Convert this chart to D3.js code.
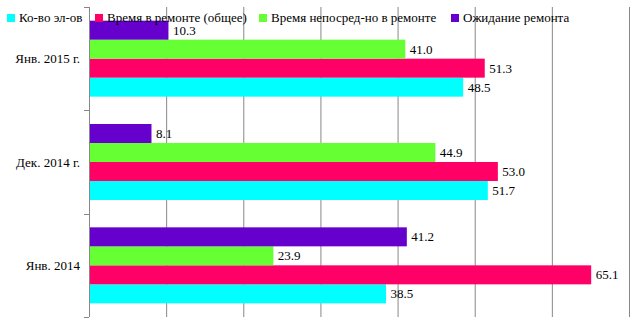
<!DOCTYPE html>
<html><head><meta charset="utf-8">
<script src="https://cdn.jsdelivr.net/npm/d3@7"></script>
<style>
html,body{margin:0;padding:0;background:#fff;}
</style></head>
<body><svg id="c" width="642" height="323" font-family="'Liberation Serif', 'DejaVu Serif', serif" font-size="13"></svg>
<script>
const categories = ["Янв. 2015 г.", "Дек. 2014 г.", "Янв. 2014"];
const seriesNames = ["Ко-во эл-ов", "Время в ремонте (общее)", "Время непосред-но в ремонте", "Ожидание ремонта"];
const seriesColors = ["#00FFFF", "#FF0066", "#66FF33", "#6600CC"];
const kolvo = [48.5, 51.7, 38.5];
const vremyaObshee = [51.3, 53.0, 65.1];
const vremyaNeposredno = [41.0, 44.9, 23.9];
const ozhidanie = [10.3, 8.1, 41.2];
const xTicks = [0, 10, 20, 30, 40, 50, 60, 70];

(function () {
const seriesValues = [kolvo, vremyaObshee, vremyaNeposredno, ozhidanie];
const legendX = [7, 95, 259, 451];
const svg = d3.select("#c");
const pLeft = 89, pRight = 629, pTop = 7, pBottom = 317;

const x = d3.scaleLinear().domain([0, 70]).range([pLeft, pRight]);
const y0 = d3.scaleBand().domain(categories).range([pTop, pBottom]).padding(0);
const seriesOrder = seriesNames.slice().reverse();
const y1 = d3.scaleBand().domain(seriesOrder).range([0, y0.bandwidth()]).paddingInner(0).paddingOuter(0.72);

svg.append("g").selectAll("line").data(xTicks.slice(1)).join("line")
  .attr("x1", d => x(d) + 0.5).attr("x2", d => x(d) + 0.5)
  .attr("y1", pTop).attr("y2", pBottom)
  .attr("stroke", "#888").attr("stroke-width", 1);

const data = [];
categories.forEach((c, ci) => seriesNames.forEach((s, si) => data.push({c, s, si, v: seriesValues[si][ci]})));
svg.append("g").selectAll("rect").data(data).join("rect")
  .attr("x", x(0)).attr("y", d => y0(d.c) + y1(d.s))
  .attr("width", d => x(d.v) - x(0)).attr("height", y1.bandwidth())
  .attr("fill", d => seriesColors[d.si]);

const yAxis = svg.append("g");
yAxis.append("line").attr("x1", pLeft + 0.5).attr("x2", pLeft + 0.5).attr("y1", pTop).attr("y2", pBottom)
  .attr("stroke", "#888");
const bounds = categories.map(c => y0(c)).concat([pBottom]);
yAxis.selectAll("line.t").data(bounds).join("line").attr("class", "t")
  .attr("x1", pLeft - 5).attr("x2", pLeft).attr("y1", d => Math.round(d) + 0.5).attr("y2", d => Math.round(d) + 0.5)
  .attr("stroke", "#888");
yAxis.selectAll("text").data(categories).join("text")
  .attr("x", 80).attr("y", d => y0(d) + y0.bandwidth() / 2).attr("dy", "0.35em")
  .attr("text-anchor", "end").attr("fill", "#000").text(d => d);

svg.append("g").selectAll("text").data(data).join("text")
  .attr("x", d => x(d.v) + 4.5).attr("y", d => y0(d.c) + y1(d.s) + y1.bandwidth() / 2).attr("dy", "0.35em")
  .attr("fill", "#000").text(d => d.v.toFixed(1));

const lg = svg.append("g");
seriesNames.forEach((s, i) => {
  lg.append("rect").attr("x", legendX[i]).attr("y", 14).attr("width", 8).attr("height", 8).attr("fill", seriesColors[i]);
  lg.append("text").attr("x", legendX[i] + 12).attr("y", 22).attr("fill", "#000").text(s);
});
})();
</script></body></html>
